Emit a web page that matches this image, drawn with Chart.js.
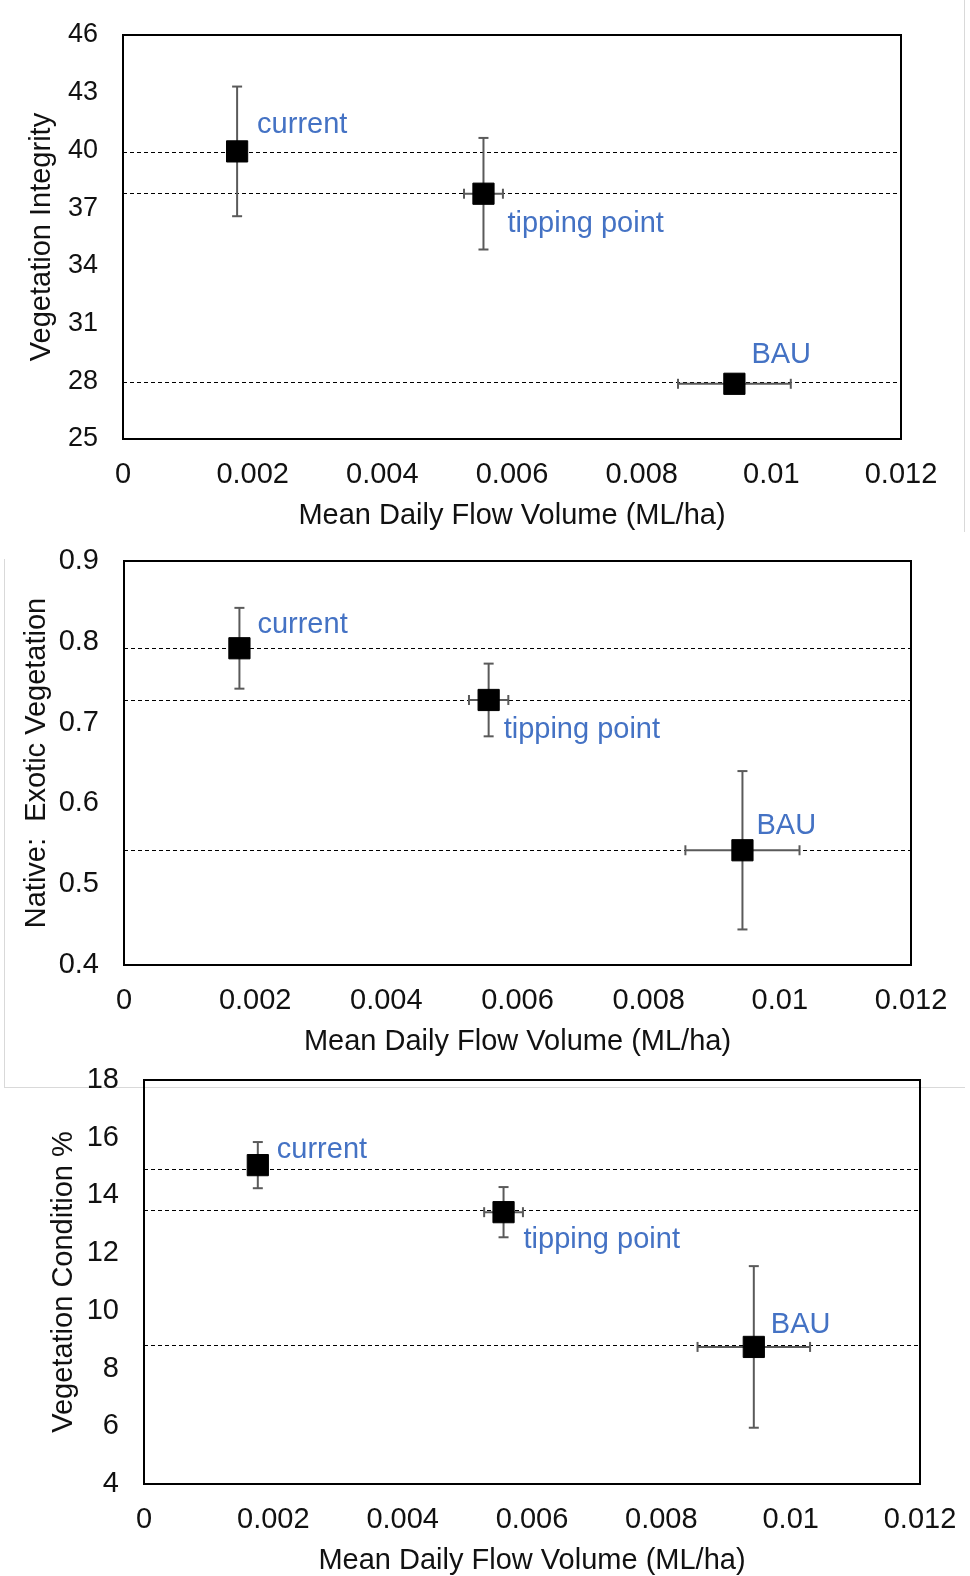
<!DOCTYPE html>
<html>
<head>
<meta charset="utf-8">
<script src="https://cdn.jsdelivr.net/npm/chart.js@4.4.1/dist/chart.umd.min.js"></script>
<style>
  html, body { margin: 0; padding: 0; background: #fff; }
  #page { position: relative; width: 970px; height: 1576px; overflow: hidden; }
  canvas { position: absolute; left: 0; }
  .edge { position: absolute; background: #d9d9d9; }
</style>
</head>
<body>
<div id="page">
  <div class="edge" style="left:964px;top:0;width:1px;height:532px"></div>
  <div class="edge" style="left:4px;top:559px;width:1px;height:529px"></div>
  <div class="edge" style="left:4px;top:1087px;width:961px;height:1px"></div>
  <canvas id="chart1" width="970" height="533" style="top:0"></canvas>
  <canvas id="chart2" width="970" height="529" style="top:530px"></canvas>
  <canvas id="chart3" width="970" height="518" style="top:1060px"></canvas>
</div>
<script>
// scenarios, shared by the three panels
const scenarios = ['current', 'tipping point', 'BAU'];
const flowVolume = [0.00176, 0.00556, 0.00943];
const flowError = [0, 0.0003, 0.00087];
const flowTicks = [0, 0.002, 0.004, 0.006, 0.008, 0.01, 0.012];

// panel 1
const integrity = [39.95, 37.75, 27.87];
const integrityError = [3.37, 2.9, 0];
const integrityGuide = [39.9, 37.8, 27.95];
const integrityTicks = [25, 28, 31, 34, 37, 40, 43, 46];

// panel 2
const nativeExotic = [0.792, 0.728, 0.542];
const nativeExoticError = [0.05, 0.045, 0.098];
const nativeExoticGuide = [0.792, 0.728, 0.542];
const nativeExoticTicks = [0.4, 0.5, 0.6, 0.7, 0.8, 0.9];

// panel 3
const condition = [15.05, 13.42, 8.75];
const conditionError = [0.8, 0.87, 2.8];
const conditionGuide = [14.92, 13.49, 8.82];
const conditionTicks = [4, 6, 8, 10, 12, 14, 16, 18];

const FONT = "'Liberation Sans', Arial, sans-serif";

const markupPlugin = {
    id: 'markup',
    beforeDatasetsDraw(chart, args, opts) {
        const { ctx, chartArea: a, scales: { x, y } } = chart;
        ctx.save();

        // dashed guide lines
        ctx.strokeStyle = '#000';
        ctx.lineWidth = 1;
        ctx.setLineDash([4, 3]);
        opts.guide.forEach(v => {
            const py = Math.round(y.getPixelForValue(v)) + 0.5;
            ctx.beginPath();
            ctx.moveTo(a.left, py);
            ctx.lineTo(a.right, py);
            ctx.stroke();
        });
        ctx.setLineDash([]);

        // error bars
        const seg = (x1, y1, x2, y2) => {
            ctx.beginPath();
            ctx.moveTo(x1, y1);
            ctx.lineTo(x2, y2);
            ctx.stroke();
        };
        ctx.strokeStyle = '#5a5a5a';
        ctx.lineWidth = 2;
        opts.values.forEach((v, i) => {
            const px = x.getPixelForValue(flowVolume[i]);
            const py = y.getPixelForValue(v);
            const ye = opts.yErr[i];
            const xe = flowError[i];
            if (ye) {
                const t = y.getPixelForValue(v + ye);
                const b = y.getPixelForValue(v - ye);
                seg(px, t, px, b);
                seg(px - 5, t, px + 5, t);
                seg(px - 5, b, px + 5, b);
            }
            if (xe) {
                const l = x.getPixelForValue(flowVolume[i] - xe);
                const r = x.getPixelForValue(flowVolume[i] + xe);
                seg(l, py, r, py);
                seg(l, py - 5, l, py + 5);
                seg(r, py - 5, r, py + 5);
            }
        });

        // plot frame
        ctx.strokeStyle = '#000';
        ctx.lineWidth = 2;
        ctx.strokeRect(a.left, a.top, a.width, a.height);
        ctx.restore();
    },
    afterDatasetsDraw(chart, args, opts) {
        const { ctx, scales: { x, y } } = chart;
        ctx.save();
        ctx.fillStyle = '#4472c4';
        ctx.font = '29px ' + FONT;
        ctx.textAlign = 'left';
        ctx.textBaseline = 'middle';
        scenarios.forEach((name, i) => {
            const px = x.getPixelForValue(flowVolume[i]);
            const py = y.getPixelForValue(opts.values[i]);
            ctx.fillText(name, px + opts.offsets[i][0], py + opts.offsets[i][1]);
        });
        ctx.restore();
    }
};

function makeChart(id, cfg) {
    return new Chart(document.getElementById(id), {
        type: 'scatter',
        data: {
            datasets: [{
                data: cfg.values.map((v, i) => ({ x: flowVolume[i], y: v })),
                pointStyle: 'rect',
                pointRadius: 15,
                pointHoverRadius: 15,
                backgroundColor: '#000',
                borderColor: '#000',
                borderWidth: 1
            }]
        },
        options: {
            responsive: false,
            animation: false,
            events: [],
            layout: { padding: { top: cfg.padTop, right: cfg.padRight, bottom: 0, left: 0 } },
            plugins: {
                legend: { display: false },
                tooltip: { enabled: false },
                markup: { values: cfg.values, yErr: cfg.yErr, guide: cfg.guide, offsets: cfg.offsets }
            },
            scales: {
                x: {
                    type: 'linear',
                    min: 0,
                    max: 0.012,
                    grid: { display: false, drawTicks: false },
                    border: { display: false },
                    ticks: {
                        padding: 19,
                        color: '#111',
                        font: { family: FONT, size: 29 },
                        maxRotation: 0,
                        callback: v => String(+v.toFixed(3))
                    },
                    title: {
                        display: true,
                        text: 'Mean Daily Flow Volume (ML/ha)',
                        color: '#111',
                        font: { family: FONT, size: 29 },
                        padding: { top: 0, bottom: 0 }
                    },
                    afterBuildTicks(s) { s.ticks = flowTicks.map(v => ({ value: v })); },
                    afterFit(s) {
                        s.height = cfg.xAxisHeight;
                        s.paddingLeft = 0;
                        s.paddingRight = 0;
                    }
                },
                y: {
                    min: cfg.ticks[0],
                    max: cfg.ticks[cfg.ticks.length - 1],
                    grid: { display: false, drawTicks: false },
                    border: { display: false },
                    ticks: {
                        padding: 25,
                        color: '#111',
                        font: { family: FONT, size: cfg.yTickSize }
                    },
                    title: {
                        display: true,
                        text: cfg.title,
                        color: '#111',
                        font: { family: FONT, size: 29 },
                        padding: { top: cfg.titlePad, bottom: 0 }
                    },
                    afterBuildTicks(s) { s.ticks = cfg.ticks.map(v => ({ value: v })); },
                    afterFit(s) {
                        s.width = cfg.yAxisWidth;
                        s.paddingTop = 0;
                        s.paddingBottom = 0;
                    }
                }
            }
        },
        plugins: [markupPlugin]
    });
}

makeChart('chart1', {
    values: integrity, yErr: integrityError, guide: integrityGuide, ticks: integrityTicks,
    title: 'Vegetation Integrity', titlePad: 25, yTickSize: 27,
    padTop: 35, padRight: 69, yAxisWidth: 123, xAxisHeight: 94,
    offsets: [[20, -26], [24, 30], [17, -29]]
});

makeChart('chart2', {
    values: nativeExotic, yErr: nativeExoticError, guide: nativeExoticGuide, ticks: nativeExoticTicks,
    title: 'Native:  Exotic Vegetation', titlePad: 20, yTickSize: 29,
    padTop: 31, padRight: 59, yAxisWidth: 124, xAxisHeight: 94,
    offsets: [[18, -23], [15, 30], [14, -24]]
});

makeChart('chart3', {
    values: condition, yErr: conditionError, guide: conditionGuide, ticks: conditionTicks,
    title: 'Vegetation Condition %', titlePad: 47, yTickSize: 29,
    padTop: 20, padRight: 50, yAxisWidth: 144, xAxisHeight: 94,
    offsets: [[19, -15], [20, 28], [17, -22]]
});
</script>
</body>
</html>
